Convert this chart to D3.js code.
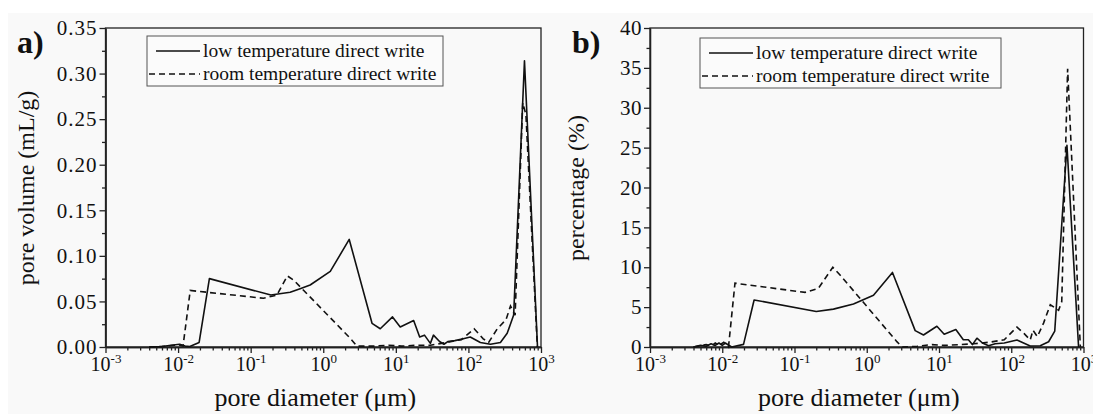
<!DOCTYPE html>
<html>
<head>
<meta charset="utf-8">
<script src="https://cdn.jsdelivr.net/npm/d3@7/dist/d3.min.js"></script>
<style>
    body { margin: 0; background: #fff; }
    svg text { font-family: "Liberation Serif", Tinos, "Times New Roman", Times, "DejaVu Serif", serif; fill: #111; }
    .axis line, .axis path { stroke: #222; stroke-width: 1.3; }
</style>
</head>
<body>
<svg id="chart" width="1093" height="414"></svg>
<script>
// ---- data: [pore diameter (um), value] ----
const lowVolume = [
    [0.004, 0], [0.006, 0.0005], [0.008, 0.002], [0.0105, 0.003], [0.0125, 0.001],
    [0.0145, 0.0005], [0.0195, 0.005], [0.027, 0.075], [0.19, 0.057], [0.35, 0.06],
    [0.48, 0.064], [0.66, 0.068], [1.25, 0.083], [2.28, 0.118], [4.7, 0.026],
    [6.1, 0.02], [9.0, 0.033], [11.5, 0.022], [17.6, 0.029], [21.3, 0.011],
    [24.8, 0.013], [29.9, 0.004], [33, 0.013], [40, 0.006], [46, 0.003],
    [52, 0.006], [65, 0.007], [85, 0.009], [106, 0.011], [146, 0.005],
    [201, 0.003], [276, 0.005], [342, 0.015], [420, 0.035], [592, 0.314], [895, 0]
];
const roomVolume = [
    [0.004, 0], [0.007, 0.001], [0.009, 0.002], [0.0105, 0.002], [0.0117, 0.001],
    [0.0147, 0.062], [0.15, 0.0535], [0.23, 0.057], [0.32, 0.078], [0.39, 0.0735],
    [2.36, 0.0095], [2.9, 0.001], [5, 0.001], [8, 0.002], [12, 0.001], [20, 0.002],
    [30, 0.002], [50, 0.005], [80, 0.008], [120, 0.02], [160, 0.009], [190, 0.005],
    [250, 0.02], [330, 0.03], [380, 0.045], [440, 0.035], [560, 0.268], [620, 0.255], [890, 0]
];
const lowPercent = [
    [0.004, 0], [0.005, 0.2], [0.006, 0.1], [0.007, 0.4], [0.008, 0.2], [0.009, 0.5],
    [0.01, 0.2], [0.011, 0.5], [0.0135, 0], [0.0197, 0.33], [0.0276, 5.9], [0.2, 4.45],
    [0.346, 4.75], [0.655, 5.4], [1.24, 6.5], [2.27, 9.35], [4.68, 2.05], [6.1, 1.5],
    [9.35, 2.6], [11.8, 1.6], [17.1, 2.2], [21.7, 0.9], [25.5, 0.9], [29, 0.3],
    [33.5, 1.1], [40, 0.5], [48.5, 0.15], [60, 0.4], [80, 0.5], [120, 0.88],
    [183, 0.13], [252, 0.15], [329, 0.66], [400, 2.0], [590, 25.3], [855, 0]
];
const roomPercent = [
    [0.004, 0], [0.006, 0.3], [0.007, 0.1], [0.008, 0.5], [0.009, 0.2], [0.0105, 0.6],
    [0.0122, 0], [0.015, 8.0], [0.14, 6.85], [0.214, 7.35], [0.339, 10.0], [0.43, 9.0],
    [2.61, 0.67], [3.1, 0], [5, 0.1], [8, 0.3], [12, 0.2], [20, 0.3], [30, 0.4],
    [50, 0.6], [80, 0.9], [120, 2.5], [150, 1.7], [183, 0.88], [200, 2.1], [230, 1.3],
    [280, 3.0], [347, 5.3], [452, 4.6], [500, 5.7], [603, 34.9], [904, 0]
];

const xExponents = [-3, -2, -1, 0, 1, 2, 3];
const volumeTicks = [0, 0.05, 0.10, 0.15, 0.20, 0.25, 0.30, 0.35];
const percentTicks = [0, 5, 10, 15, 20, 25, 30, 35, 40];
const seriesNames = ["low temperature direct write", "room temperature direct write"];

const svg = d3.select("#chart");
svg.append("rect").attr("x", 8).attr("y", 13).attr("width", 1085).attr("height", 401).attr("fill", "#f9f9f9");

function drawPanel(p) {
    const x = d3.scaleLog().domain([1e-3, 1e3]).range([p.left, p.right]);
    const y = d3.scaleLinear().domain([0, p.ymax]).range([p.bottom, p.top]);

    // minor x ticks 2..9 per decade
    let minors = [];
    for (let e = -3; e < 3; e++) for (let k = 2; k <= 9; k++) minors.push(k * Math.pow(10, e));

    svg.append("g").attr("class", "axis")
        .attr("transform", "translate(0," + p.bottom + ")")
        .call(d3.axisBottom(x).tickValues(minors).tickSize(3.5).tickSizeOuter(0).tickFormat(""));

    let xAxis = svg.append("g").attr("class", "axis")
        .attr("transform", "translate(0," + p.bottom + ")")
        .call(d3.axisBottom(x).tickValues(xExponents.map(e => Math.pow(10, e))).tickSize(6).tickSizeOuter(0).tickFormat(""));
    xAxis.selectAll(".tick").each(function (d) {
        let t = d3.select(this).append("text")
            .attr("y", 24).attr("text-anchor", "middle")
            .style("font-size", "20px").attr("fill", "#111");
        t.append("tspan").text("10");
        t.append("tspan").attr("dy", -8).style("font-size", "13px").text(Math.round(Math.log10(d)));
    });

    // y minor ticks at half steps
    let yMinors = p.yTicks.slice(0, -1).map((v, i) => (v + p.yTicks[i + 1]) / 2);
    svg.append("g").attr("class", "axis")
        .attr("transform", "translate(" + p.left + ",0)")
        .call(d3.axisLeft(y).tickValues(yMinors).tickSize(3.5).tickSizeOuter(0).tickFormat(""));
    let yAxis = svg.append("g").attr("class", "axis")
        .attr("transform", "translate(" + p.left + ",0)")
        .call(d3.axisLeft(y).tickValues(p.yTicks).tickSize(6).tickSizeOuter(0).tickFormat(p.fmt));
    yAxis.selectAll("text").attr("x", -8).style("font-size", "21px").style("letter-spacing", p.spacing).attr("fill", "#111");

    // frame
    svg.append("rect").attr("x", p.left).attr("y", p.top)
        .attr("width", p.right - p.left).attr("height", p.bottom - p.top)
        .attr("fill", "none").attr("stroke", "#222").attr("stroke-width", 1.3);

    const line = d3.line().x(d => x(d[0])).y(d => y(d[1]));
    svg.append("path").datum(p.low).attr("d", line)
        .attr("fill", "none").attr("stroke", "#111").attr("stroke-width", 1.6).attr("stroke-linejoin", "round");
    svg.append("path").datum(p.room).attr("d", line)
        .attr("fill", "none").attr("stroke", "#111").attr("stroke-width", 1.6).attr("stroke-dasharray", "6,4");

    // legend
    let lg = p.legend;
    svg.append("rect").attr("x", lg.x).attr("y", lg.y).attr("width", lg.w).attr("height", 50)
        .attr("fill", "#fbfbfb").attr("stroke", "#555").attr("stroke-width", 1);
    svg.append("line").attr("x1", lg.x + 9).attr("x2", lg.x + 53).attr("y1", lg.y + 15).attr("y2", lg.y + 15)
        .attr("stroke", "#111").attr("stroke-width", 1.4);
    svg.append("line").attr("x1", lg.x + 2).attr("x2", lg.x + 53).attr("y1", lg.y + 38).attr("y2", lg.y + 38)
        .attr("stroke", "#111").attr("stroke-width", 1.4).attr("stroke-dasharray", "6,4");
    seriesNames.forEach((s, i) => {
        svg.append("text").attr("x", lg.x + 56).attr("y", lg.y + 21 + i * 23)
            .style("font-size", "19.5px").text(s);
    });

    // titles
    svg.append("text").attr("x", (p.left + p.right) / 2 - 8).attr("y", 406)
        .attr("text-anchor", "middle").style("font-size", "26px").text("pore diameter (\u03bcm)");
    svg.append("text").attr("transform", "translate(" + p.ytitleX + ",188) rotate(-90)")
        .attr("text-anchor", "middle").style("font-size", "24px").text(p.ytitle);
    svg.append("text").attr("x", p.labelX).attr("y", 53)
        .style("font-size", "32px").style("font-weight", "bold").text(p.label);
}

drawPanel({
    left: 105.5, right: 541, top: 28, bottom: 347, ymax: 0.35,
    yTicks: volumeTicks, fmt: d3.format(".2f"), spacing: "1px",
    low: lowVolume, room: roomVolume,
    legend: { x: 147, y: 36, w: 296 },
    ytitle: "pore volume (mL/g)", ytitleX: 34, label: "a)", labelX: 17
});
drawPanel({
    left: 650, right: 1083.5, top: 28, bottom: 347, ymax: 40,
    yTicks: percentTicks, fmt: d3.format("d"), spacing: "0.5px",
    low: lowPercent, room: roomPercent,
    legend: { x: 700, y: 38, w: 301 },
    ytitle: "percentage (%)", ytitleX: 584, label: "b)", labelX: 572
});
</script>
</body>
</html>
